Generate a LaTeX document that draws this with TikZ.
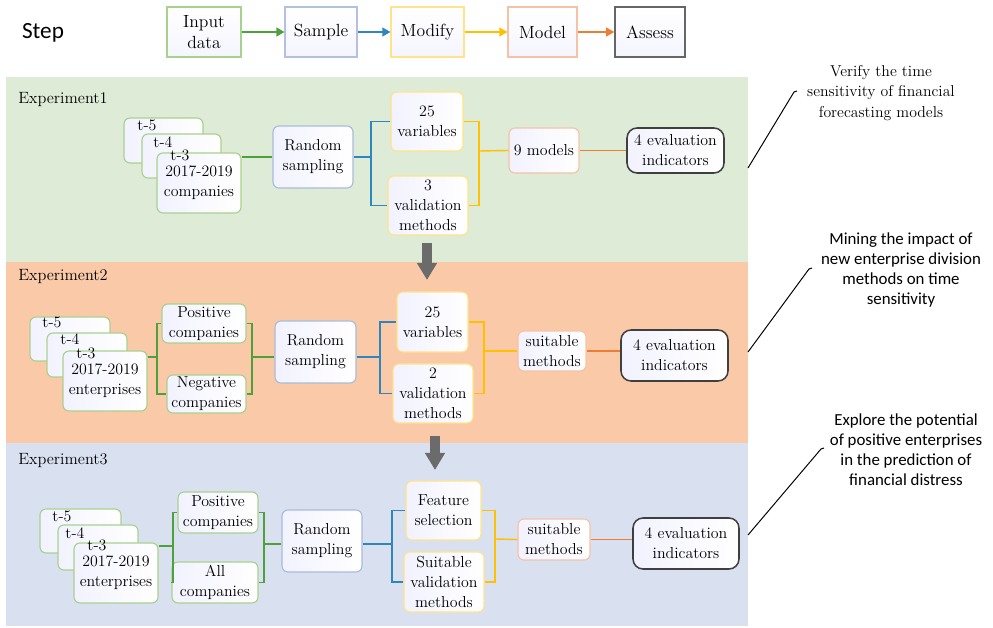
\documentclass[tikz,border=0pt]{standalone}
\usepackage{fontspec}
\newfontfamily\calfont{Carlito}
\usepackage{tikz}
\usetikzlibrary{arrows.meta}
\usepackage{xcolor}

% panel fills
\definecolor{pgreen}{HTML}{DEEBD6}
\definecolor{porange}{HTML}{F9C9A8}
\definecolor{pblue}{HTML}{D9E1F1}
% connector colours
\definecolor{lgreen}{HTML}{4EA03A}
\definecolor{lblue}{HTML}{2E86C1}
\definecolor{lyellow}{HTML}{FFC000}
\definecolor{lorange}{HTML}{ED7D31}
% box borders
\definecolor{bgreen}{HTML}{A9D18E}
\definecolor{bblue}{HTML}{A8BCDB}
\definecolor{blav}{HTML}{B4C0E0}
\definecolor{byellow}{HTML}{FFE38A}
\definecolor{borange}{HTML}{F5C2A6}
\definecolor{bgray}{HTML}{3F3F3F}

\tikzset{
  sz/.style 2 args={minimum width={#1*0.025cm}, minimum height={#2*0.025cm}},
  txt/.style={font=\rmfamily\fontsize{11.3}{14.2}\selectfont},
  stepbox/.style={draw, line width=0.8pt, align=center, inner sep=1pt,
    top color=white, bottom color=blue!4!white,
    font=\rmfamily\fontsize{12.5}{15.5}\selectfont},
  box/.style={draw, rounded corners=0.15cm, line width=0.8pt, align=center,
    inner sep=1pt, left color=blue!5!white, right color=white, txt},
  databox/.style={box, draw=bgreen},
  rsbox/.style={box, draw=bblue},
  varbox/.style={box, draw=byellow},
  modbox/.style={box, draw=borange},
  evalbox/.style={box, draw=bgray, line width=1.1pt, rounded corners=0.25cm},
  tlbl/.style={inner sep=0pt, txt},
  explbl/.style={anchor=west, inner sep=0pt, font=\rmfamily\fontsize{11.6}{15}\selectfont},
  note/.style={align=center, inner sep=1pt, font=\rmfamily\fontsize{11.2}{14.3}\selectfont},
  steparr/.style={line width=1pt, -{Triangle[length=0.2cm,width=0.22cm]}},
  link/.style={line width=1pt},
  bigarr/.style={draw=black!58, line width=0.25cm, -{Triangle[length=0.43cm,width=0.48cm]}},
}

\begin{document}
\begin{tikzpicture}[x=0.025cm, y=-0.025cm]
\useasboundingbox (0,0) rectangle (993,628);

% panels
\fill[pgreen] (6,77) rectangle (748,262);
\fill[porange] (6,262) rectangle (748,443);
\fill[pblue] (6,443) rectangle (748,626);

% step row
\node[font=\calfont\fontsize{16.5}{18}\selectfont] (steplbl) at (43,33) {Step};
\node[stepbox, draw=bgreen, sz={74}{50}] (sin) at (204,32) {Input\\data};
\node[stepbox, draw=blav, sz={72}{50}] (ssa) at (321,32) {Sample};
\node[stepbox, draw=byellow, sz={73}{50}] (smo) at (427.5,32) {Modify};
\node[stepbox, draw=borange, sz={69}{50}] (sme) at (542.5,32) {Model};
\node[stepbox, draw=black!60, line width=1.1pt, sz={70}{50}] (sas) at (650,32) {Assess};
\draw[steparr, lgreen] (sin) -- (ssa);
\draw[steparr, lblue] (ssa) -- (smo);
\draw[steparr, lyellow] (smo) -- (sme);
\draw[steparr, lorange] (sme) -- (sas);

% Experiment1
\node[explbl] (e1lbl) at (18,100) {Experiment1};
\node[databox, sz={79}{45}] (t5a) at (163.5,140.5) {};
\node[databox, sz={79}{44}] (t4a) at (181.5,156) {};
\node[databox, sz={84}{60}] (t3a) at (199,183) {2017-2019\\companies};
\node[tlbl] at (147,125) {t-5};
\node[tlbl] at (163,142) {t-4};
\node[tlbl] at (180,155) {t-3};
\node[rsbox, sz={80}{62}] (rs1) at (313,157) {Random\\sampling};
\node[varbox, sz={72}{59}] (v1) at (427,121.5) {25\\variables};
\node[varbox, sz={80}{59}] (m1) at (428,205.5) {3\\validation\\methods};
\node[modbox, sz={70}{45}] (mo1) at (544,150.5) {9 models};
\node[evalbox, sz={97}{45}] (ev1) at (675.5,150.5) {4 evaluation\\indicators};
\coordinate (b1) at (371,157);
\coordinate (y1) at (479,151);
\draw[link, lgreen] (rs1.west) -- (rs1.west -| t3a.east);
\draw[link, lblue] (rs1.east) -- (b1);
\draw[link, lblue] (v1.west) -| (b1) |- (m1.west);
\draw[link, lyellow] (v1.east) -| (y1) |- (m1.east);
\draw[link, lyellow] (y1) -- (mo1.west);
\draw[link, lorange] (mo1) -- (ev1);

% Experiment2
\node[explbl] (e2lbl) at (18,277) {Experiment2};
\node[databox, sz={80}{44}] (t5b) at (70,339) {};
\node[databox, sz={80}{44}] (t4b) at (87,355) {};
\node[databox, sz={84}{60}] (t3b) at (105,381) {2017-2019\\enterprises};
\node[tlbl] at (52,322) {t-5};
\node[tlbl] at (70,339) {t-4};
\node[tlbl] at (86,353) {t-3};
\node[databox, sz={84}{39}] (pos2) at (204,323.5) {Positive\\companies};
\node[databox, sz={79}{38}] (neg2) at (206.5,394) {Negative\\companies};
\node[rsbox, sz={81}{62}] (rs2) at (315.5,352) {Random\\sampling};
\node[varbox, sz={71}{60}] (v2) at (432.5,322) {25\\variables};
\node[varbox, sz={80}{59}] (m2) at (433,393.5) {2\\validation\\methods};
\node[modbox, sz={68}{40}] (sm2) at (552,351) {suitable\\methods};
\node[evalbox, sz={107}{51}] (ev2) at (674.5,355.5) {4 evaluation\\indicators};
\coordinate (g2a) at (157,357);
\coordinate (g2b) at (252,357);
\coordinate (b2) at (380,357);
\coordinate (y2) at (484,351);
\draw[link, lgreen] (g2a -| t3b.east) -- (g2a);
\draw[link, lgreen] (pos2.west) -| (g2a) |- (neg2.west);
\draw[link, lgreen] (pos2.east) -| (g2b) |- (neg2.east);
\draw[link, lgreen] (g2b) -- (g2b -| rs2.west);
\draw[link, lblue] (b2 -| rs2.east) -- (b2);
\draw[link, lblue] (v2.west) -| (b2) |- (m2.west);
\draw[link, lyellow] (v2.east) -| (y2) |- (m2.east);
\draw[link, lyellow] (y2) -- (sm2.west);
\draw[link, lorange] (sm2.east) -- (sm2.east -| ev2.west);

% Experiment3
\node[explbl] (e3lbl) at (18,461) {Experiment3};
\node[databox, sz={81}{44}] (t5c) at (80.5,531) {};
\node[databox, sz={80}{45}] (t4c) at (98,547.5) {};
\node[databox, sz={84}{60}] (t3c) at (116,573) {2017-2019\\enterprises};
\node[tlbl] at (62,516) {t-5};
\node[tlbl] at (75,533) {t-4};
\node[tlbl] at (97,545) {t-3};
\node[databox, sz={80}{41}] (pos3) at (218,512.5) {Positive\\companies};
\node[databox, sz={86}{41}] (all3) at (215,582.5) {All\\companies};
\node[rsbox, sz={80}{62}] (rs3) at (322,541) {Random\\sampling};
\node[varbox, sz={75}{59}] (fs3) at (443.5,510.5) {Feature\\selection};
\node[varbox, sz={80}{60}] (sv3) at (444,582) {Suitable\\validation\\methods};
\node[modbox, sz={72}{41}] (sm3) at (554,539.5) {suitable\\methods};
\node[evalbox, sz={106}{51}] (ev3) at (686,543.5) {4 evaluation\\indicators};
\coordinate (g3a) at (173,546);
\coordinate (g3b) at (264,544);
\coordinate (b3) at (392,544);
\coordinate (y3) at (495,539);
\draw[link, lgreen] (g3a -| t3c.east) -- (g3a);
\draw[link, lgreen] (pos3.west) -| (g3a) |- (all3.west);
\draw[link, lgreen] (pos3.east) -| (g3b) |- (all3.east);
\draw[link, lgreen] (g3b) -- (g3b -| rs3.west);
\draw[link, lblue] (b3 -| rs3.east) -- (b3);
\draw[link, lblue] (fs3.west) -| (b3) |- (sv3.west);
\draw[link, lyellow] (fs3.east) -| (y3) |- (sv3.east);
\draw[link, lyellow] (y3) -- (sm3.west);
\draw[link, lorange] (sm3.east) -- (sm3.east -| ev3.west);

% arrows between experiments
\coordinate (a1s) at (427,243);
\coordinate (a1e) at (427,280);
\coordinate (a2s) at (435,436);
\coordinate (a2e) at (435,470);
\draw[bigarr] (a1s) -- (a1e);
\draw[bigarr] (a2s) -- (a2e);

% notes on the right
\node[note] (n1) at (881,93) {Verify the time\\sensitivity of financial\\forecasting models};
\node[note, font=\calfont\fontsize{12}{14.3}\selectfont] (n2) at (901,270) {Mining the impact of\\new enterprise division\\methods on time\\sensitivity};
\node[note, font=\calfont\fontsize{12}{14.3}\selectfont] (n3) at (906,450) {Explore the potential\\of positive enterprises\\in the prediction of\\financial distress};
\coordinate (p1) at (748,168);
\coordinate (h1) at (794,92);
\coordinate (p2) at (748,352);
\coordinate (h2) at (809,269);
\coordinate (p3) at (748,535);
\coordinate (h3) at (821,449);
\draw[line width=0.7pt] (p1) -- (h1) -- ++(3,-1);
\draw[line width=0.7pt] (p2) -- (h2) -- ++(3,-1);
\draw[line width=0.7pt] (p3) -- (h3) -- ++(3,-1);
\end{tikzpicture}
\end{document}
